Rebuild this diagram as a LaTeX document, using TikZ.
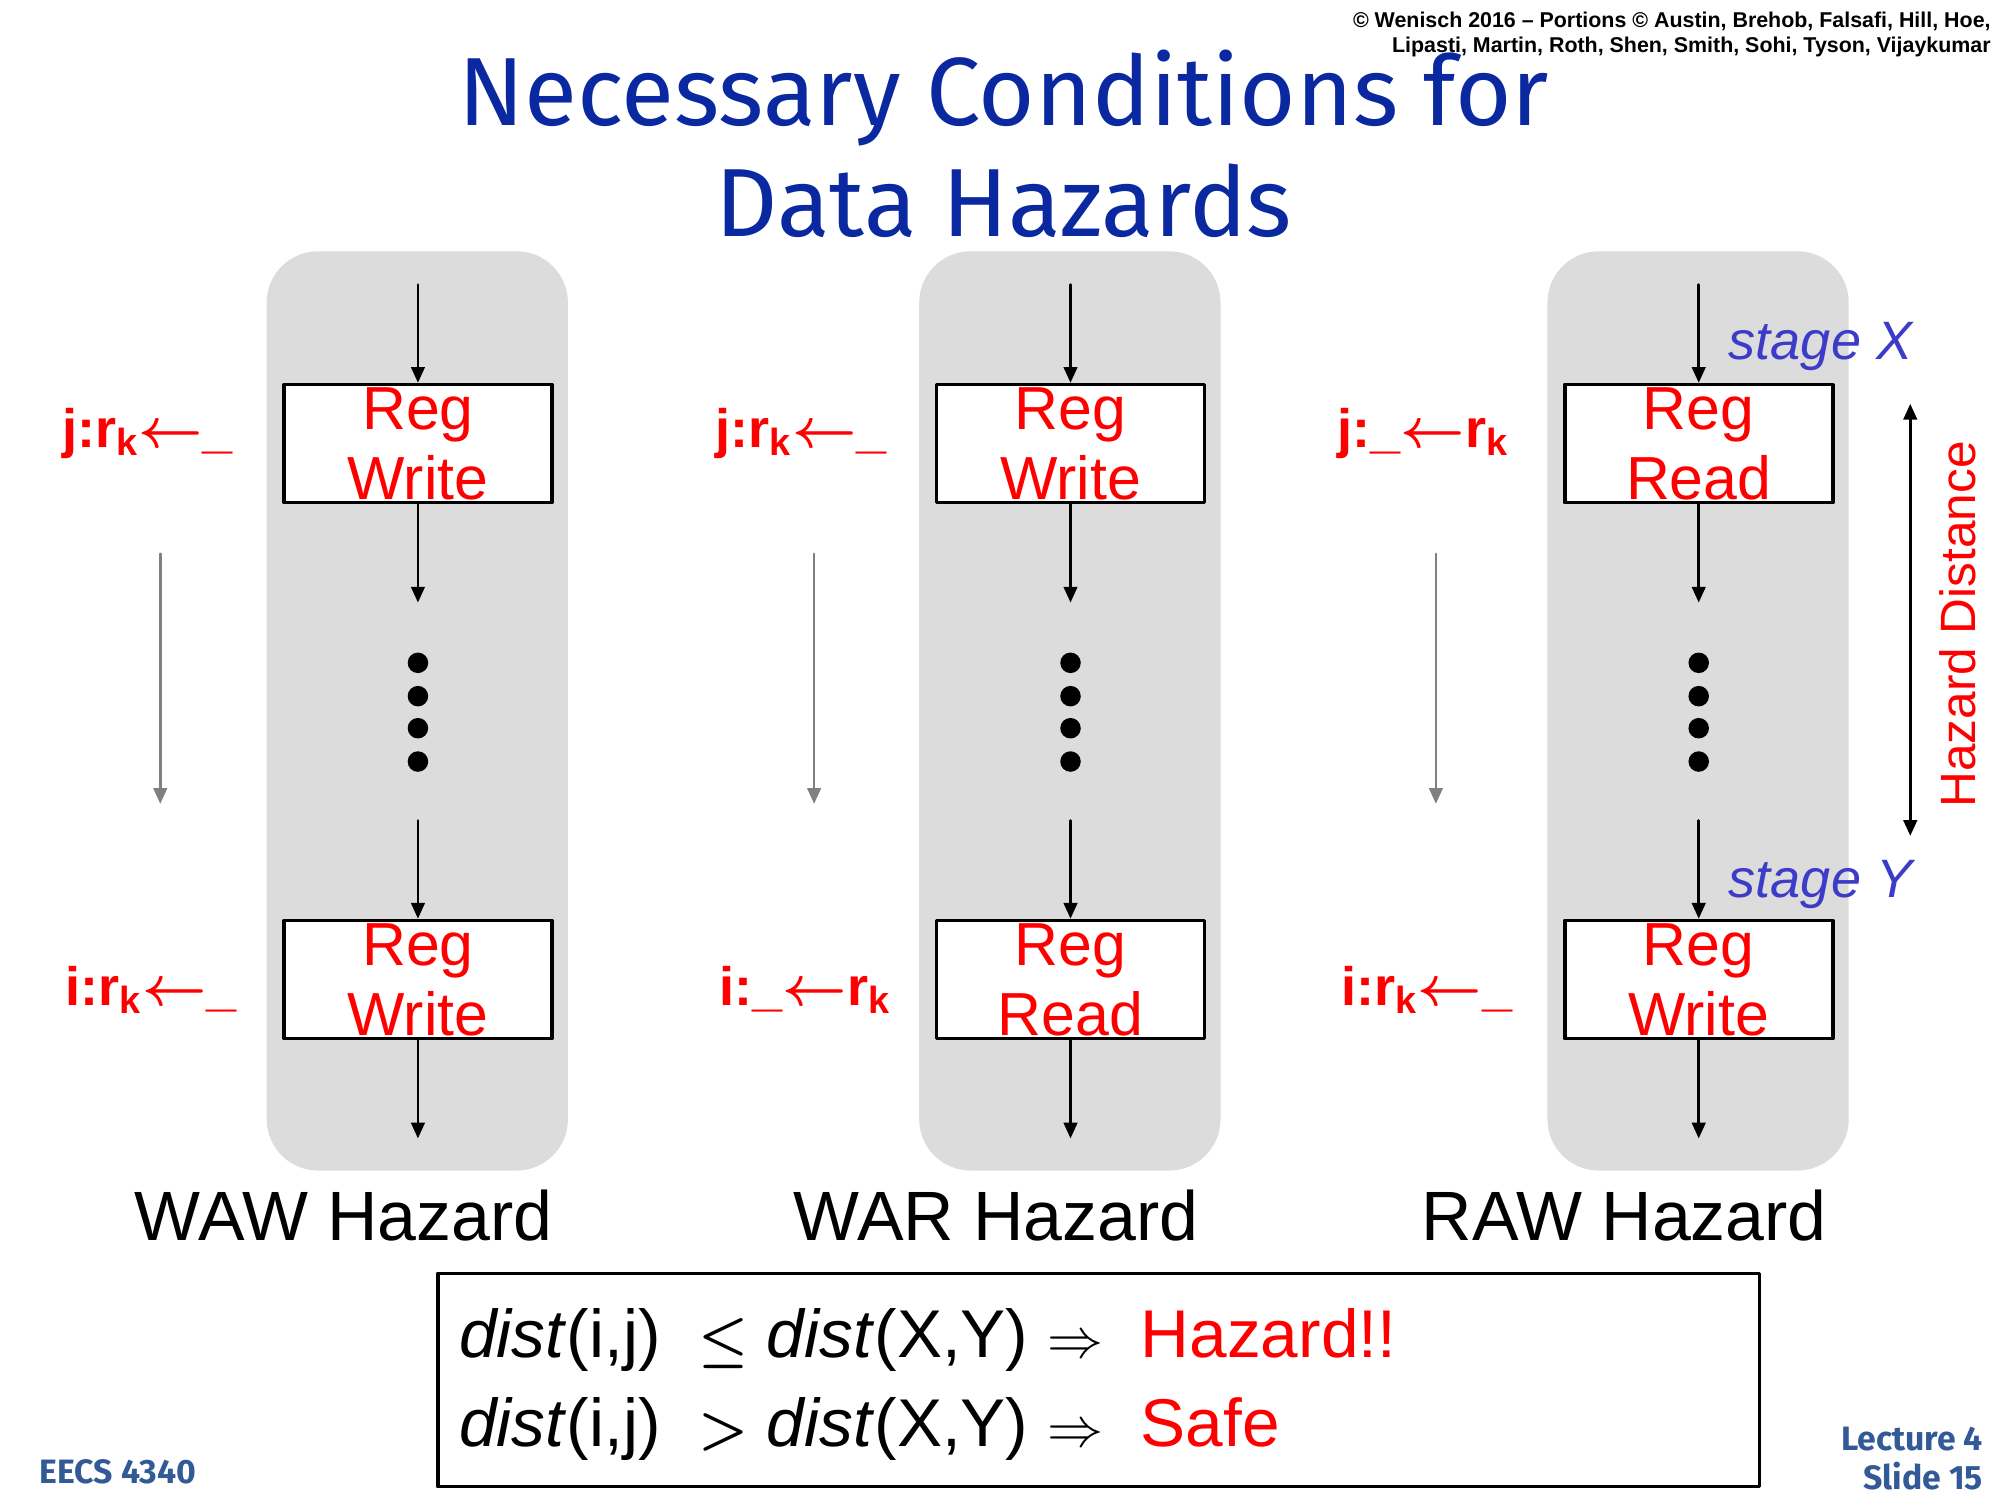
\documentclass[tikz,border=0pt]{standalone}
\usepackage{amsmath,amssymb}
\usepackage{fontspec}
\setmainfont{Liberation Sans}
\newfontfamily\titlefont{Fira Sans}
\usetikzlibrary{arrows.meta,positioning}
\definecolor{titleblue}{RGB}{10,40,160}
\definecolor{stageblue}{RGB}{60,60,200}
\definecolor{panelgrey}{RGB}{220,220,220}
\definecolor{footblue}{RGB}{50,90,150}
\newcommand{\fs}[1]{\fontsize{#1}{1.15\dimexpr#1\relax}\selectfont}
\newcommand{\larr}{$\boldsymbol{\leftarrow}$}
\tikzset{
  stagebox/.style={draw,line width=1.6pt,fill=white,minimum width=209*0.02cm,minimum height=92*0.02cm,
    inner sep=0pt,align=center,text=red,font=\fs{27pt}},
  panel/.style={fill=panelgrey,rounded corners=0.8cm},
  flow/.style={-{Triangle[length=7pt,width=6pt]},line width=1.2pt},
  order/.style={-{Triangle[length=7pt,width=6pt]},line width=1.2pt,gray},
  instr/.style={text=red,font=\bfseries\fs{24pt}},
  dotmark/.style={circle,fill=black,inner sep=0pt,minimum size=16*0.02cm}
}
\begin{document}
\begin{tikzpicture}[x=0.02cm,y=-0.02cm,line cap=round,line join=round]
\useasboundingbox (0,0) rectangle (1560,1170);
% title and credits
\node[text=titleblue,font=\titlefont\fs{43pt},align=center] (title) at (783,112) {Necessary Conditions for\\Data Hazards};
\node[anchor=north east,font=\bfseries\fs{9.5pt},align=right,inner sep=0pt] (credit) at (1553,9)
  {\textcopyright\ Wenisch 2016 -- Portions \textcopyright\ Austin, Brehob, Falsafi, Hill, Hoe,\\Lipasti, Martin, Roth, Shen, Smith, Sohi, Tyson, Vijaykumar};
% three pipelines
\foreach \n/\cx/\lx/\top/\bot/\jlab/\ilab/\name in {
  waw/326/115/Write/Write/{j:r$_\mathbf{k}$\larr\_}/{i:r$_\mathbf{k}$\larr\_}/WAW Hazard,
  war/835/625/Write/Read/{j:r$_\mathbf{k}$\larr\_}/{i:\_\larr r$_\mathbf{k}$}/WAR Hazard,
  raw/1325/1110/Read/Write/{j:\_\larr r$_\mathbf{k}$}/{i:r$_\mathbf{k}$\larr\_}/RAW Hazard}{
  \fill[panel] (\cx-118,196) rectangle (\cx+117,913);
  \coordinate (\n in) at (\cx,222);
  \node[stagebox] (\n x) at (\cx,346) {Reg\\\top};
  \coordinate (\n a) at (\cx,470);
  \foreach \d/\yy in {1/517,2/543,3/568,4/594} \node[dotmark] (\n d\d) at (\cx,\yy) {};
  \coordinate (\n b) at (\cx,640);
  \node[stagebox] (\n y) at (\cx,764) {Reg\\\bot};
  \coordinate (\n out) at (\cx,888);
  \draw[flow] (\n in) -- (\n x);
  \draw[flow] (\n x) -- (\n a);
  \draw[flow] (\n b) -- (\n y);
  \draw[flow] (\n y) -- (\n out);
  \node[instr] (\n j) at (\lx,338) {\jlab};
  \node[instr] (\n i) at (\lx+3,772) {\ilab};
  \coordinate (\n o1) at (\lx+10,432);
  \coordinate (\n o2) at (\lx+10,627);
  \draw[order] (\n o1) -- (\n o2);
  \node[font=\fs{31pt}] (\n lab) at (\cx-58,948) {\name};
}
% stages and distance
\node[text=stageblue,font=\itshape\fs{24pt}] (stx) at (1420,270) {stage X};
\node[text=stageblue,font=\itshape\fs{24pt}] (sty) at (1420,690) {stage Y};
\coordinate (hd1) at (1490,315);
\coordinate (hd2) at (1490,652);
\draw[{Triangle[length=7pt,width=6pt]}-{Triangle[length=7pt,width=6pt]},line width=1.2pt] (hd1) -- (hd2);
\node[text=red,rotate=90,font=\fs{22pt}] (hdl) at (1527,487) {Hazard Distance};
% conditions
\node[draw,line width=1.6pt,minimum width=1031*0.02cm,minimum height=166*0.02cm,anchor=north west] (cond) at (340,992) {};
\node[anchor=west,font=\fs{30pt}] (c1) at (352,1045) {\textit{dist}(i,j)\ \ $\boldsymbol{\le}$ \textit{dist}(X,Y) $\Rightarrow$\ \ \textcolor{red}{Hazard!!}};
\node[anchor=west,font=\fs{30pt}] (c2) at (352,1115) {\textit{dist}(i,j)\ \ $\boldsymbol{>}$ \textit{dist}(X,Y) $\Rightarrow$\ \ \textcolor{red}{Safe}};
% footer
\node[text=footblue,font=\titlefont\bfseries\fs{15pt}] (course) at (92,1148) {EECS 4340};
\node[text=footblue,font=\titlefont\bfseries\fs{15pt},align=right,anchor=east] (slide) at (1553,1138) {Lecture 4\\Slide 15};
\end{tikzpicture}
\end{document}
